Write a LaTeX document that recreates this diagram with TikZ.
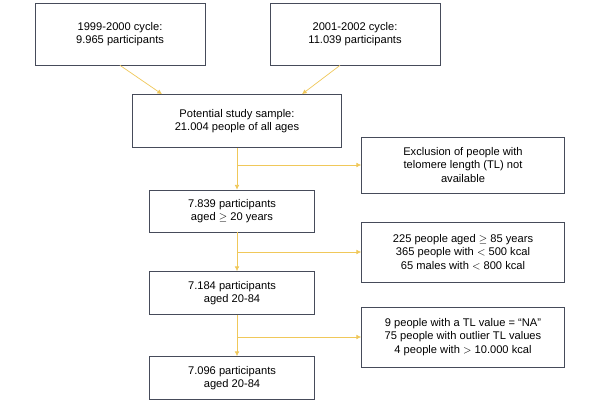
\documentclass[tikz,border=0pt]{standalone}
\usepackage{fontspec}
\setmainfont{Liberation Sans}
\usetikzlibrary{arrows.meta}
\definecolor{flow}{RGB}{240,200,90}
\definecolor{edge}{RGB}{70,75,90}
\begin{document}
\begin{tikzpicture}
    [x=0.03cm, y=-0.03cm,
     box/.style={draw=edge, line width=0.6pt, align=center, font=\fontsize{9.5}{11.5}\selectfont, inner sep=2pt},
     link/.style={draw=flow, line width=0.6pt, -{Latex[length=4pt,width=4pt]}}]
    \useasboundingbox[fill=white] (0,0) rectangle (600,400);
    \node[box, minimum width=5.1cm, minimum height=1.86cm] (c1) at (120,34) {1999-2000 cycle:\\9.965 participants};
    \node[box, minimum width=5.1cm, minimum height=1.86cm] (c2) at (355,34) {2001-2002 cycle:\\11.039 participants};
    \node[box, minimum width=6.27cm, minimum height=1.59cm] (pot) at (237,121) {Potential study sample:\\21.004 people of all ages};
    \node[box, minimum width=6.09cm, minimum height=1.68cm] (ex1) at (463,165) {Exclusion of people with\\telomere length (TL) not\\available};
    \node[box, minimum width=4.95cm, minimum height=1.26cm] (p1) at (232,211) {7.839 participants\\aged $\geq$ 20 years};
    \node[box, minimum width=6.09cm, minimum height=1.8cm] (ex2) at (463,252) {225 people aged $\geq$ 85 years\\365 people with $<$ 500 kcal\\65 males with $<$ 800 kcal};
    \node[box, minimum width=4.95cm, minimum height=1.29cm] (p2) at (232,293) {7.184 participants\\aged 20-84};
    \node[box, minimum width=6.09cm, minimum height=1.8cm] (ex3) at (463,337) {9 people with a TL value = “NA”\\75 people with outlier TL values\\4 people with $>$ 10.000 kcal};
    \node[box, minimum width=4.95cm, minimum height=1.29cm] (p3) at (232,378) {7.096 participants\\aged 20-84};

    \draw[link] (c1.south) -- (pot.north -| 162,0);
    \draw[link] (c2.south -| 340,0) -- (pot.north -| 302,0);
    \draw[link] (pot.south) -- (pot.south |- p1.north);
    \draw[link] (pot.south |- ex1.west) -- (ex1.west);
    \draw[link] (pot.south |- p1.south) -- (pot.south |- p2.north);
    \draw[link] (pot.south |- ex2.west) -- (ex2.west);
    \draw[link] (pot.south |- p2.south) -- (pot.south |- p3.north);
    \draw[link] (pot.south |- ex3.west) -- (ex3.west);
\end{tikzpicture}
\end{document}
